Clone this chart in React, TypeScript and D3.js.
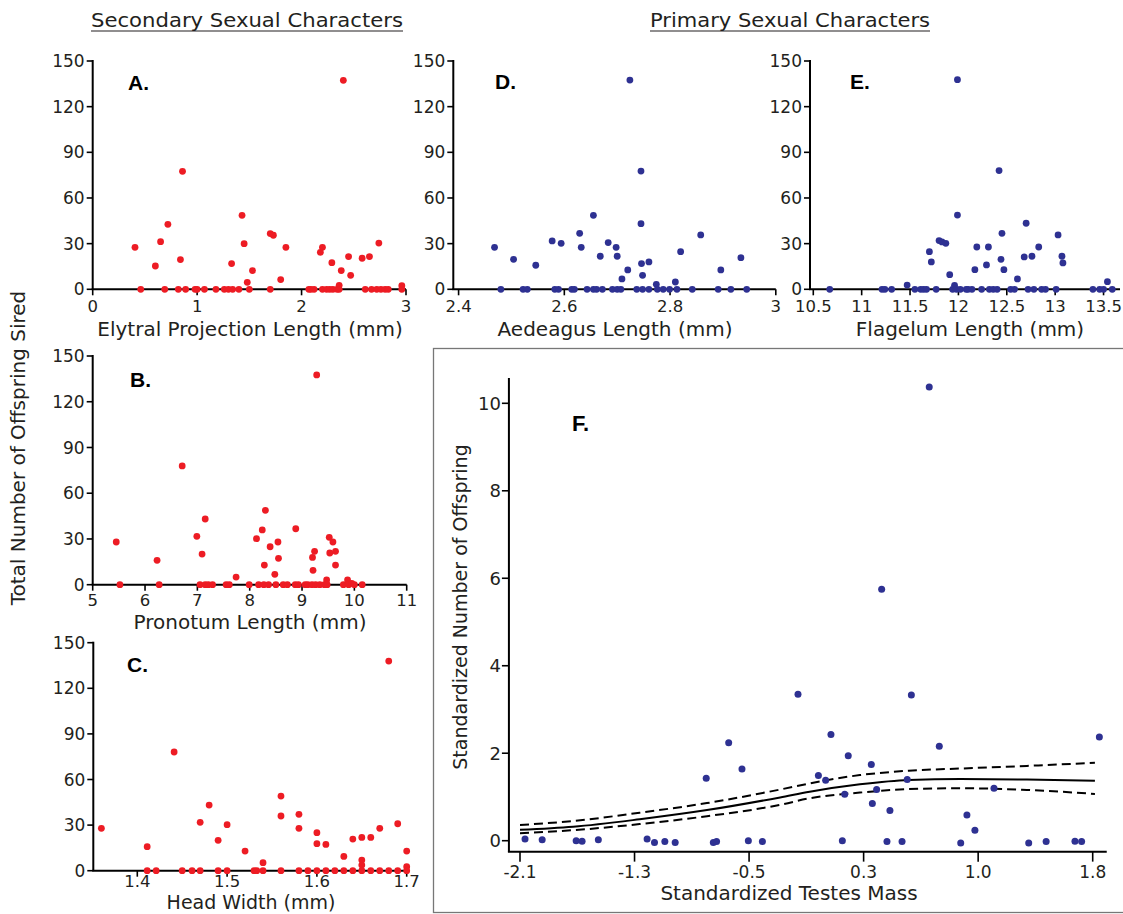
import React from "react";
import * as d3 from "d3";

const RED = "#ed1c24";
const BLUE = "#2e3192";
const INK = "#231f20";
const SANS = '"DejaVu Sans", sans-serif';
const COND = '"DejaVu Sans Condensed", "DejaVu Sans", sans-serif';
const BOLD = '"Liberation Sans", Arial, sans-serif';

type Pt = [number, number];

const offspringTicks = [0, 30, 60, 90, 120, 150];

const elytralTicks = [0, 1, 2, 3];
const elytralData: Pt[] = [
  [0.405, 27.6], [0.46, 0], [0.6, 15.3], [0.65, 31.3], [0.69, 0], [0.72, 42.7], [0.82, 0], [0.84, 19.5],
  [0.86, 77.5], [0.89, 0], [0.98, 0], [1.0, 0], [1.07, 0], [1.18, 0], [1.26, 0], [1.3, 0], [1.33, 16.9],
  [1.34, 0], [1.4, 0], [1.43, 48.6], [1.45, 30.0], [1.48, 4.6], [1.5, 0], [1.53, 12.3], [1.7, 0],
  [1.7, 36.6], [1.73, 35.5], [1.8, 6.4], [1.85, 27.6], [2.07, 0], [2.09, 0], [2.12, 0], [2.18, 24.3],
  [2.2, 27.6], [2.2, 0], [2.24, 0], [2.27, 0], [2.29, 17.5], [2.3, 0], [2.34, 0], [2.36, 2.6], [2.36, 0],
  [2.38, 12.3], [2.4, 137.3], [2.45, 21.5], [2.47, 9.2], [2.58, 20.4], [2.61, 0], [2.65, 21.5], [2.67, 0],
  [2.72, 0], [2.74, 30.4], [2.76, 0], [2.8, 0], [2.83, 0], [2.96, 2.4], [2.96, 0],
];

const pronotumTicks = [5, 6, 7, 8, 9, 10, 11];
const pronotumData: Pt[] = [
  [5.45, 28.0], [5.52, 0], [6.23, 16.0], [6.27, 0], [6.71, 77.9], [6.99, 31.7], [7.09, 20.1], [7.15, 43.1],
  [7.05, 0], [7.15, 0], [7.21, 0], [7.29, 0], [7.55, 0], [7.61, 0], [7.74, 5.0], [7.99, 0], [8.13, 30.2],
  [8.17, 0], [8.24, 35.9], [8.28, 12.9], [8.3, 48.8], [8.27, 0], [8.36, 0], [8.39, 24.9], [8.48, 6.8],
  [8.5, 0], [8.54, 28.0], [8.55, 17.3], [8.64, 0], [8.72, 0], [8.88, 36.7], [8.87, 0], [8.93, 0],
  [9.06, 0], [9.11, 0], [9.2, 17.9], [9.21, 9.4], [9.24, 21.9], [9.19, 0], [9.26, 0], [9.28, 137.6],
  [9.34, 0], [9.43, 0], [9.47, 3.1], [9.52, 31.1], [9.53, 20.8], [9.59, 28.0], [9.64, 21.9], [9.64, 12.9],
  [9.48, 0], [9.79, 0], [9.87, 3.1], [9.89, 0], [9.95, 0.9], [10.0, 0], [10.15, 0],
];

const headTicks = [1.4, 1.5, 1.6, 1.7];
const headData: Pt[] = [
  [1.36, 27.9], [1.411, 15.8], [1.411, 0], [1.421, 0], [1.441, 78.1], [1.45, 0], [1.461, 0], [1.47, 31.8],
  [1.47, 0], [1.48, 43.2], [1.49, 20.0], [1.49, 0], [1.5, 30.3], [1.5, 0], [1.52, 12.9], [1.53, 0],
  [1.533, 0], [1.54, 5.3], [1.54, 0], [1.56, 49.1], [1.56, 36.0], [1.56, 0], [1.58, 37.1], [1.58, 27.9],
  [1.58, 0], [1.59, 0], [1.6, 25.0], [1.6, 17.8], [1.6, 0], [1.61, 17.3], [1.61, 0], [1.62, 0],
  [1.63, 9.4], [1.63, 0], [1.64, 20.8], [1.64, 0], [1.65, 21.9], [1.65, 7.0], [1.65, 3.7], [1.65, 0],
  [1.66, 21.9], [1.66, 0], [1.67, 27.9], [1.67, 0], [1.68, 137.9], [1.68, 0], [1.69, 30.9], [1.69, 0],
  [1.7, 12.9], [1.7, 2.6], [1.7, 0],
];

const aedeagusTicks = [2.4, 2.6, 2.8, 3];
const aedeagusData: Pt[] = [
  [2.468, 27.6], [2.48, 0], [2.504, 19.7], [2.522, 0], [2.53, 0], [2.546, 15.8], [2.577, 31.8],
  [2.582, 0], [2.589, 0], [2.594, 30.2], [2.614, 0], [2.619, 0], [2.629, 36.8], [2.632, 27.6],
  [2.643, 0], [2.655, 48.6], [2.655, 0], [2.661, 0], [2.668, 21.7], [2.672, 0], [2.683, 30.7],
  [2.691, 0], [2.698, 27.6], [2.7, 21.7], [2.7, 0], [2.707, 0], [2.709, 6.8], [2.72, 12.7],
  [2.724, 137.5], [2.737, 0], [2.745, 77.7], [2.745, 43.1], [2.746, 16.9], [2.748, 9.2], [2.748, 0],
  [2.76, 18.0], [2.76, 0], [2.774, 3.3], [2.776, 0], [2.787, 0], [2.799, 0], [2.81, 4.8], [2.813, 0],
  [2.82, 24.7], [2.842, 0], [2.858, 35.7], [2.891, 0], [2.896, 12.7], [2.915, 0], [2.934, 20.8], [2.945, 0],
];

const flagelumTicks = [10.5, 11, 11.5, 12, 12.5, 13, 13.5];
const flagelumData: Pt[] = [
  [10.67, 0], [11.21, 0], [11.24, 0], [11.31, 0], [11.47, 2.8], [11.55, 0], [11.61, 0], [11.64, 0],
  [11.67, 0], [11.7, 24.7], [11.72, 18.0], [11.77, 0], [11.8, 32.0], [11.83, 31.1], [11.87, 30.2],
  [11.91, 9.6], [11.94, 0], [11.96, 2.6], [11.98, 0], [11.99, 137.7], [11.99, 48.8], [12.02, 0],
  [12.08, 0], [12.1, 0], [12.14, 0], [12.17, 12.9], [12.19, 27.8], [12.24, 0], [12.29, 16.0],
  [12.31, 27.8], [12.32, 0], [12.36, 0], [12.4, 0], [12.42, 78.0], [12.44, 19.7], [12.45, 36.8],
  [12.47, 12.9], [12.54, 0], [12.58, 0], [12.61, 6.8], [12.68, 21.3], [12.7, 43.4], [12.72, 0],
  [12.76, 21.7], [12.78, 0], [12.83, 27.8], [12.86, 0], [12.9, 0], [13.01, 0], [13.03, 35.7],
  [13.07, 21.7], [13.08, 17.3], [13.39, 0], [13.46, 0], [13.5, 0], [13.54, 5.0], [13.59, 0],
];

const testesTicks = [-2.05, -1.275, -0.5, 0.275, 1.05, 1.825];
const testesTickLabels = ["-2.1", "-1.3", "-0.5", "0.3", "1.0", "1.8"];
const stdOffspringTicks = [0, 2, 4, 6, 8, 10];
const testesData: Pt[] = [
  [-2.016, 0.04], [-1.9, 0.02], [-1.67, 0.0], [-1.63, -0.01], [-1.52, 0.02], [-1.19, 0.04], [-1.14, -0.04],
  [-1.07, -0.02], [-1.0, -0.04], [-0.79, 1.43], [-0.638, 2.24], [-0.548, 1.64], [-0.742, -0.04],
  [-0.72, -0.02], [-0.505, 0.0], [-0.41, -0.02], [-0.169, 3.35], [0.054, 2.43], [0.171, 1.94],
  [-0.031, 1.49], [0.018, 1.38], [0.147, 1.06], [0.131, 0.0], [0.327, 1.74], [0.334, 0.85],
  [0.363, 1.17], [0.453, 0.69], [0.433, -0.02], [0.535, -0.02], [0.598, 3.33], [0.57, 1.4],
  [0.787, 2.16], [0.932, -0.05], [0.974, 0.59], [1.028, 0.24], [1.157, 1.2], [1.392, -0.05],
  [1.51, -0.02], [1.705, -0.01], [1.75, -0.02], [1.87, 2.37], [0.719, 10.37], [0.397, 5.75],
];
const fitX = [-2.05, -1.69, -1.24, -0.785, -0.29, -0.09, 0.25, 0.58, 0.93, 1.38, 1.84];
const fitMean = [0.25, 0.32, 0.49, 0.7, 0.99, 1.12, 1.29, 1.39, 1.41, 1.4, 1.37];
const fitUpper = [0.36, 0.45, 0.64, 0.86, 1.17, 1.31, 1.5, 1.6, 1.65, 1.71, 1.78];
const fitLower = [0.17, 0.24, 0.38, 0.56, 0.82, 0.97, 1.1, 1.18, 1.2, 1.16, 1.07];

type ScatterProps = {
  xDomain: [number, number];
  xRange: [number, number];
  yRange: [number, number];
  xTicks: number[];
  data: Pt[];
  color: string;
  letter: string;
  letterPos: [number, number];
  title: string;
  titlePos: [number, number];
  titleSize?: number;
  tickLabelY: number;
  axisEnd?: number;
};

function Scatter(p: ScatterProps) {
  const x = d3.scaleLinear().domain(p.xDomain).range(p.xRange);
  const y = d3.scaleLinear().domain([0, 150]).range(p.yRange);
  const x0 = p.xRange[0];
  const yb = y(0);
  const end = p.axisEnd ?? p.xRange[1];
  return (
    <g>
      <line x1={x0} x2={x0} y1={y(150) - 1} y2={yb} stroke="#000" strokeWidth={2} />
      <line x1={x0 - 1} x2={end} y1={yb} y2={yb} stroke="#000" strokeWidth={2} />
      {offspringTicks.map((t) => (
        <g key={"y" + t}>
          <line x1={x0 - 6} x2={x0} y1={y(t)} y2={y(t)} stroke="#000" strokeWidth={1.6} />
          <text x={x0 - 8} y={y(t)} dy="0.36em" textAnchor="end" fontFamily={SANS} fontSize={17} fill={INK}>
            {t}
          </text>
        </g>
      ))}
      {p.xTicks.map((t) => (
        <g key={"x" + t}>
          <line x1={x(t)} x2={x(t)} y1={yb} y2={yb + 6} stroke="#000" strokeWidth={1.6} />
          <text x={x(t)} y={p.tickLabelY} textAnchor="middle" fontFamily={SANS} fontSize={16.5} fill={INK}>
            {String(t)}
          </text>
        </g>
      ))}
      {p.data.map((d, i) => (
        <circle key={i} cx={x(d[0])} cy={y(d[1])} r={3.4} fill={p.color} />
      ))}
      <text x={p.letterPos[0]} y={p.letterPos[1]} fontFamily={BOLD} fontWeight="bold" fontSize={21} fill="#000">
        {p.letter}
      </text>
      <text x={p.titlePos[0]} y={p.titlePos[1]} textAnchor="middle" fontFamily={SANS} fontSize={p.titleSize ?? 20} fill={INK}>
        {p.title}
      </text>
    </g>
  );
}

function PanelF() {
  const x = d3.scaleLinear().domain([-2.05, 1.825]).range([520, 1092.7]);
  const y = d3.scaleLinear().domain([0, 10]).range([840.7, 403.3]);
  const axX = x(-2.125);
  const axY = y(-0.25);
  const line = d3
    .line<number>()
    .x((_, i) => x(fitX[i]))
    .y((v) => y(v))
    .curve(d3.curveMonotoneX);
  return (
    <g>
      <rect x={433.5} y={348.5} width={720} height={564} fill="none" stroke="#777" strokeWidth={1.3} />
      <line x1={axX} x2={axX} y1={y(10.58)} y2={axY} stroke="#000" strokeWidth={2} />
      <line x1={axX - 1} x2={x(1.92)} y1={axY} y2={axY} stroke="#000" strokeWidth={2} />
      {stdOffspringTicks.map((t) => (
        <g key={"fy" + t}>
          <line x1={axX - 7} x2={axX} y1={y(t)} y2={y(t)} stroke="#000" strokeWidth={1.6} />
          <text x={axX - 8} y={y(t)} dy="0.36em" textAnchor="end" fontFamily={SANS} fontSize={18} fill={INK}>
            {t}
          </text>
        </g>
      ))}
      {testesTicks.map((t, i) => (
        <g key={"fx" + t}>
          <line x1={x(t)} x2={x(t)} y1={axY} y2={axY + 10} stroke="#000" strokeWidth={1.6} />
          <text x={x(t)} y={878} textAnchor="middle" fontFamily={SANS} fontSize={17} fill={INK}>
            {testesTickLabels[i]}
          </text>
        </g>
      ))}
      <path d={line(fitMean) || ""} fill="none" stroke="#000" strokeWidth={2} />
      <path d={line(fitUpper) || ""} fill="none" stroke="#000" strokeWidth={2} strokeDasharray="9,5" />
      <path d={line(fitLower) || ""} fill="none" stroke="#000" strokeWidth={2} strokeDasharray="9,5" />
      {testesData.map((d, i) => (
        <circle key={i} cx={x(d[0])} cy={y(d[1])} r={3.5} fill={BLUE} />
      ))}
      <text x={572} y={431} fontFamily={BOLD} fontWeight="bold" fontSize={22} fill="#000">
        F.
      </text>
      <text x={789} y={900} textAnchor="middle" fontFamily={SANS} fontSize={20} fill={INK}>
        Standardized Testes Mass
      </text>
      <text
        transform="translate(467,607) rotate(-90)"
        textAnchor="middle"
        fontFamily={SANS}
        fontSize={19}
        fill={INK}
      >
        Standardized Number of Offspring
      </text>
    </g>
  );
}

export default function App() {
  const topY: [number, number] = [289.3, 61];
  return (
    <svg
      width={1123}
      height={914}
      viewBox="0 0 1123 914"
      style={{ position: "absolute", left: 0, top: 0, background: "#fff" }}
    >
      <rect width={1123} height={914} fill="#fff" />
      <text x={247} y={27} textAnchor="middle" fontFamily={COND} fontSize={20} fill={INK} textLength={312} lengthAdjust="spacingAndGlyphs">
        Secondary Sexual Characters
      </text>
      <line x1={91} x2={403} y1={31} y2={31} stroke={INK} strokeWidth={1.2} />
      <text x={790} y={27} textAnchor="middle" fontFamily={COND} fontSize={20} fill={INK} textLength={280} lengthAdjust="spacingAndGlyphs">
        Primary Sexual Characters
      </text>
      <line x1={650} x2={930} y1={31} y2={31} stroke={INK} strokeWidth={1.2} />

      <text transform="translate(25,448) rotate(-90)" textAnchor="middle" fontFamily={SANS} fontSize={20} fill={INK}>
        Total Number of Offspring Sired
      </text>

      <Scatter
        xDomain={[0, 3]}
        xRange={[92.7, 406]}
        yRange={topY}
        xTicks={elytralTicks}
        data={elytralData}
        color={RED}
        letter="A."
        letterPos={[128, 90]}
        title="Elytral Projection Length (mm)"
        titlePos={[250, 335.5]}
        tickLabelY={312}
      />
      <Scatter
        xDomain={[5, 11]}
        xRange={[92.7, 406.7]}
        yRange={[584.7, 356]}
        xTicks={pronotumTicks}
        data={pronotumData}
        color={RED}
        letter="B."
        letterPos={[130, 387]}
        title="Pronotum Length (mm)"
        titlePos={[250, 629]}
        tickLabelY={606}
      />
      <Scatter
        xDomain={[1.351, 1.7]}
        xRange={[93.3, 406.7]}
        yRange={[870.7, 642.7]}
        xTicks={headTicks}
        data={headData}
        color={RED}
        letter="C."
        letterPos={[127, 672]}
        title="Head Width (mm)"
        titleSize={19}
        titlePos={[251, 908.5]}
        tickLabelY={886.5}
      />
      <Scatter
        xDomain={[2.39, 3.0]}
        xRange={[453.3, 775.8]}
        yRange={topY}
        xTicks={aedeagusTicks}
        data={aedeagusData}
        color={BLUE}
        letter="D."
        letterPos={[495, 89]}
        title="Aedeagus Length (mm)"
        titlePos={[615, 335.5]}
        tickLabelY={312}
      />
      <Scatter
        xDomain={[10.466, 13.67]}
        xRange={[810, 1120]}
        yRange={topY}
        xTicks={flagelumTicks}
        data={flagelumData}
        color={BLUE}
        letter="E."
        letterPos={[850, 89]}
        title="Flagelum Length (mm)"
        titlePos={[970, 335.5]}
        tickLabelY={312}
      />
      <PanelF />
    </svg>
  );
}
